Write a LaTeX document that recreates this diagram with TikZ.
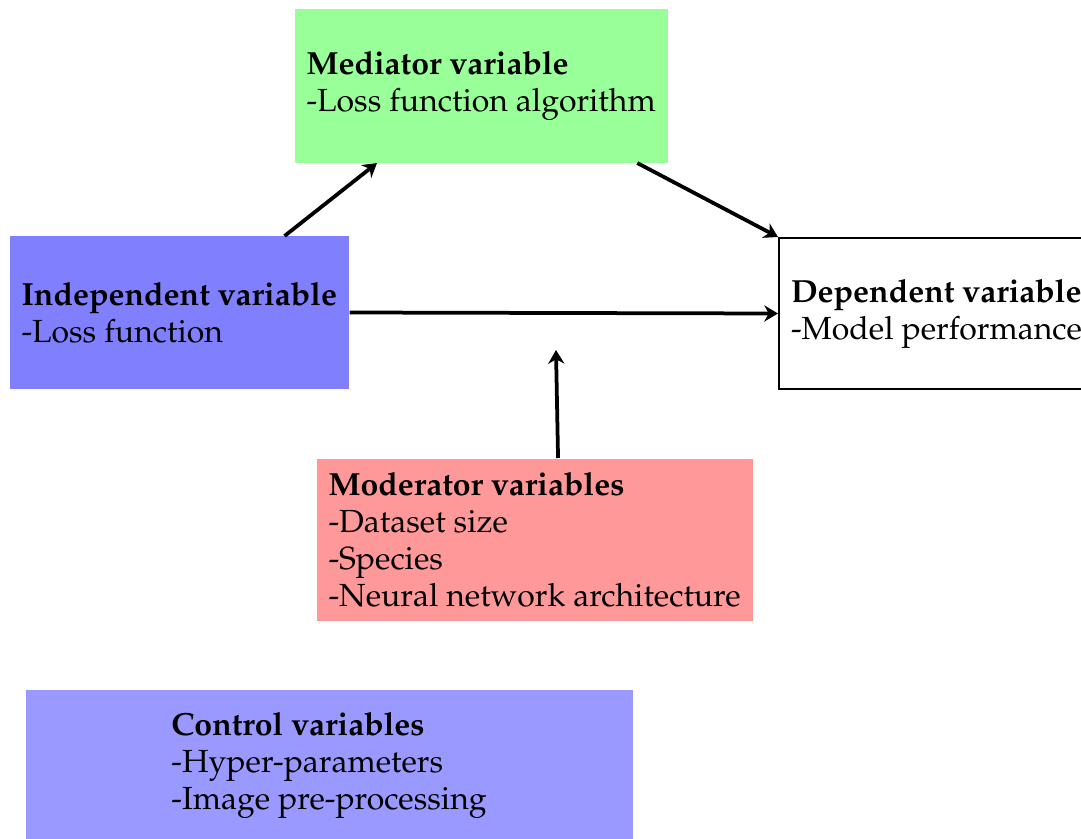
\documentclass[tikz,border=0pt]{standalone}
\usepackage[T1]{fontenc}
\usepackage{mathpazo}
\usetikzlibrary{arrows.meta}

\begin{document}
\begin{tikzpicture}[x=0.4pt, y=-0.4pt,
    varbox/.style={anchor=north west, align=left, inner xsep=4.8pt, font=\fontsize{12.8}{14.8}\selectfont},
    link/.style={-{Stealth[length=5.5pt, width=6.5pt]}, line width=1.5pt}
]
    \useasboundingbox (0,0) rectangle (1081,839);

    \node[varbox, fill=green!40, minimum width=148.4pt, minimum height=61.2pt] (med) at (294,9) {\textbf{Mediator variable}\\-Loss function algorithm};
    \node[varbox, fill=blue!50, minimum width=134.8pt, minimum height=60.8pt] (ind) at (9,236) {\textbf{Independent variable}\\-Loss function};
    \node[varbox, draw, line width=0.8pt, minimum height=60.4pt] (dep) at (778,237) {\textbf{Dependent variable}\\-Model performance};
    \node[varbox, fill=red!40, minimum width=173.2pt, minimum height=64.8pt] (mod) at (316,458) {\textbf{Moderator variables}\\-Dataset size\\-Species\\-Neural network architecture};
    \node[varbox, fill=blue!40, minimum width=242.8pt, minimum height=60.8pt] (ctl) at (25,689) {\textbf{Control variables}\\-Hyper-parameters\\-Image pre-processing};

    % Arrows
    \coordinate (effect) at (556,350);
    \draw[link] ([xshift=-26pt]ind.north east) -- ([xshift=33.2pt]med.south west);
    \draw[link] ([xshift=-12.4pt]med.south east) -- (dep.north west);
    \draw[link] (ind.east) -- (dep.west);
    \draw[link] ([xshift=9.4pt]mod.north) -- (effect);
\end{tikzpicture}
\end{document}
